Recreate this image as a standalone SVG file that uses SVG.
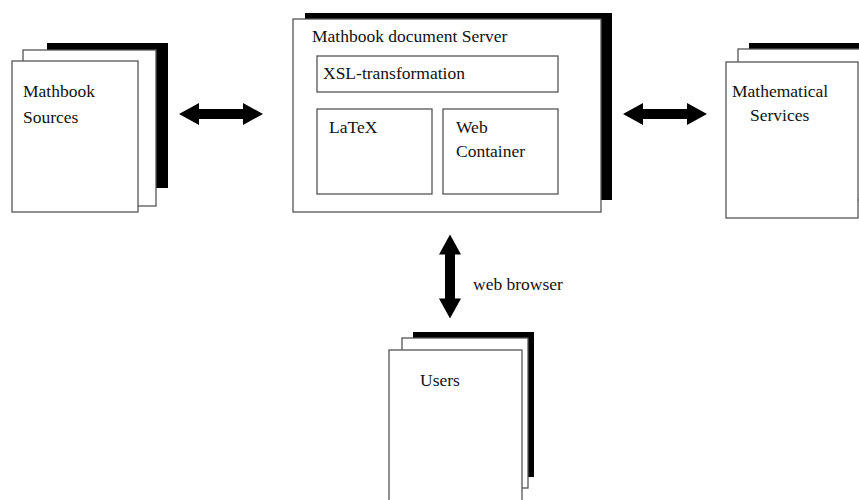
<svg xmlns="http://www.w3.org/2000/svg" width="859" height="500" viewBox="0 0 859 500">
  <defs>
    <style>
      .page { fill: #fff; stroke: #555; stroke-width: 1.3; }
      .shadow { fill: #000; }
      .label { font-family: "Liberation Serif", "Times New Roman", serif; font-size: 17.5px; fill: #111; }
      .arrow { fill: #000; }
    </style>
    <!-- double-headed block arrow, 84 long, centred on the origin -->
    <path id="darrow" d="M-42,0 L-22,-11 L-22,-5 L22,-5 L22,-11 L42,0 L22,11 L22,5 L-22,5 L-22,11 Z"/>
  </defs>
  <rect width="859" height="500" fill="#fff"/>

  <!-- source documents -->
  <g id="sources">
    <rect class="shadow" x="47" y="43" width="121" height="145"/>
    <rect class="page" x="23" y="50" width="133" height="156"/>
    <rect class="page" x="12" y="61" width="126" height="151"/>
    <text class="label" x="23" y="97">Mathbook</text>
    <text class="label" x="23" y="123">Sources</text>
  </g>

  <!-- document server -->
  <g id="server">
    <rect class="shadow" x="305" y="13" width="307" height="187"/>
    <rect class="page" x="293" y="19" width="308" height="193"/>
    <text class="label" x="312" y="42">Mathbook document Server</text>
  </g>
  <g id="xsl">
    <rect class="page" x="317" y="56" width="241" height="36"/>
    <text class="label" x="323" y="79">XSL-transformation</text>
  </g>
  <g id="latex">
    <rect class="page" x="317" y="109" width="115" height="85"/>
    <text class="label" x="329" y="133">LaTeX</text>
  </g>
  <g id="webcontainer">
    <rect class="page" x="443" y="109" width="115" height="85"/>
    <text class="label" x="456" y="133">Web</text>
    <text class="label" x="456" y="157">Container</text>
  </g>

  <!-- mathematical services -->
  <g id="services">
    <rect class="shadow" x="749" y="43" width="130" height="150"/>
    <rect class="page" x="738" y="49" width="140" height="151"/>
    <rect class="page" x="726" y="62" width="132" height="156"/>
    <text class="label" x="732" y="97">Mathematical</text>
    <text class="label" x="750" y="121">Services</text>
  </g>

  <!-- users -->
  <g id="users">
    <rect class="shadow" x="413" y="332" width="121" height="145"/>
    <rect class="page" x="402" y="338" width="126" height="150"/>
    <rect class="page" x="389" y="350" width="133" height="170"/>
    <text class="label" x="420" y="386">Users</text>
  </g>

  <!-- connectors -->
  <g id="connectors" class="arrow">
    <use href="#darrow" transform="translate(221,114)"/>
    <use href="#darrow" transform="translate(665,114)"/>
    <use href="#darrow" transform="translate(450,276.5) rotate(90)"/>
    <text class="label" x="473" y="290">web browser</text>
  </g>
</svg>
